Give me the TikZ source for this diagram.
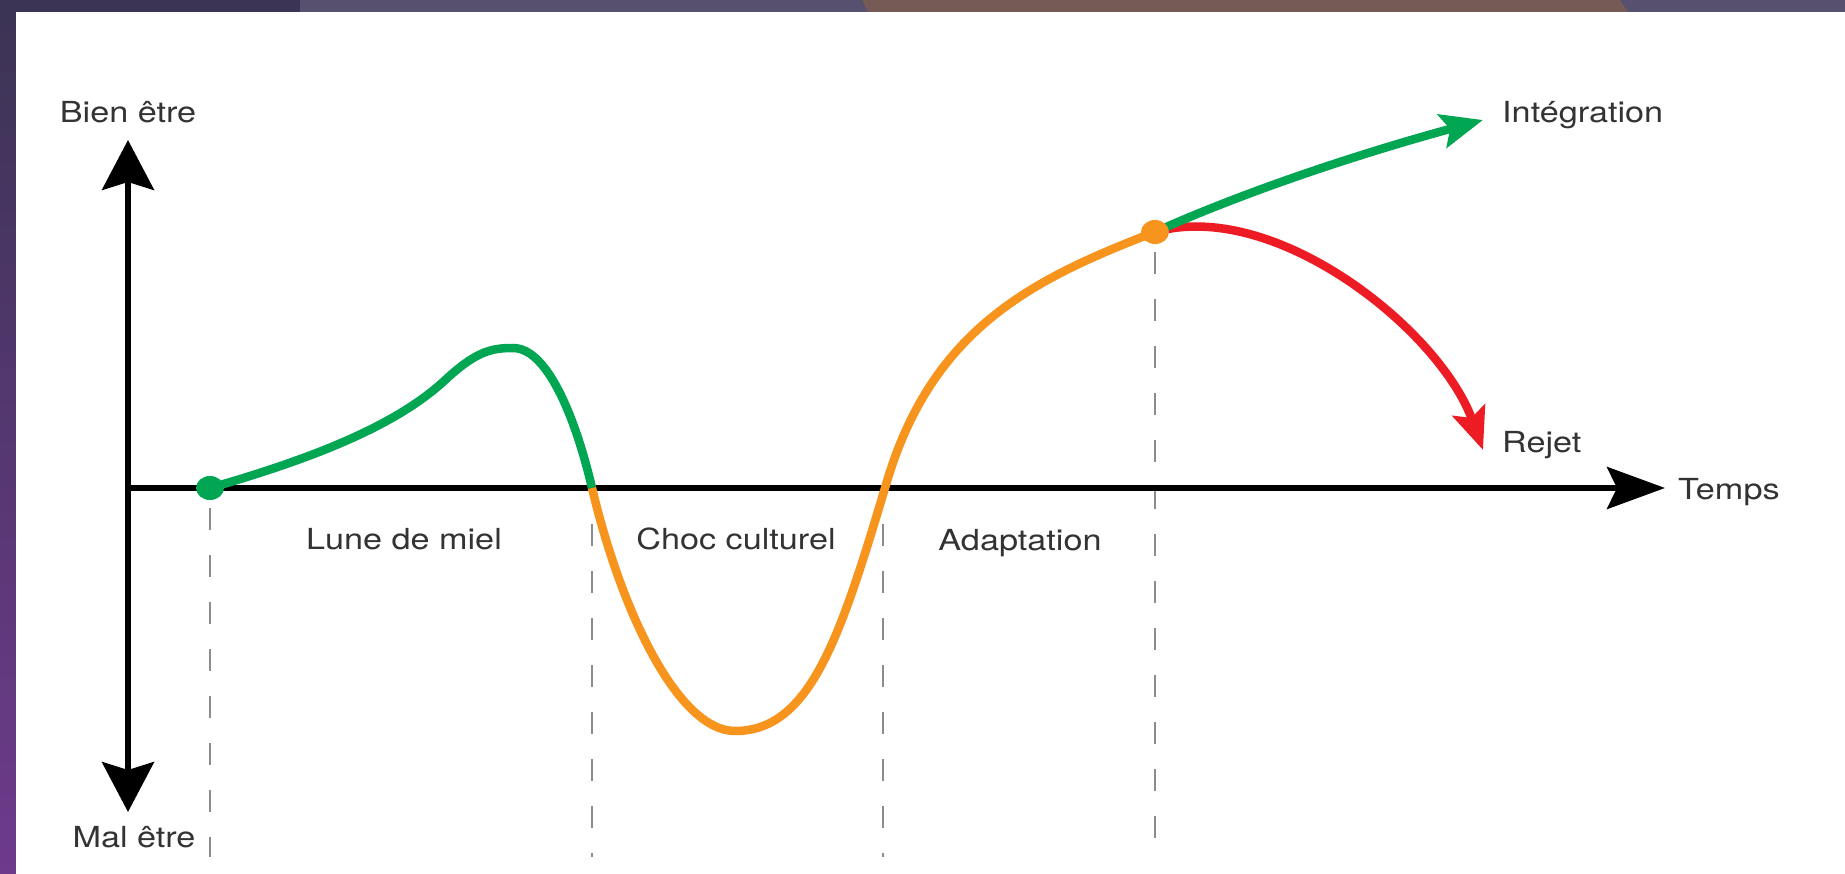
\documentclass[tikz,border=0pt]{standalone}
\usepackage{fontspec}
\setmainfont{TeX Gyre Heros}[FakeStretch=1.18]
\usetikzlibrary{arrows.meta}

\definecolor{greenline}{HTML}{00A651}
\definecolor{orangeline}{HTML}{F7941D}
\definecolor{redline}{HTML}{ED1C24}
\definecolor{guidegray}{HTML}{8C8C8C}
\definecolor{textgray}{HTML}{333333}
\definecolor{bgdark}{HTML}{3B3454}
\definecolor{bgmauve}{HTML}{57506F}
\definecolor{bgbrown}{HTML}{765A55}
\definecolor{bgpurple}{HTML}{6E3A8C}

\begin{document}
\begin{tikzpicture}[x=1pt, y=-1pt,
    lbl/.style={font=\fontsize{29pt}{34pt}\selectfont, text=textgray, inner sep=0pt},
    axis/.style={line width=5.5pt, black},
    curve/.style={line width=8.5pt},
    guide/.style={guidegray, line width=2pt, dash pattern=on 22pt off 25pt},
    axistip/.style={-{Stealth[length=58pt, width=42pt, inset=10pt]}},
    curvetip/.style={-{Stealth[length=42pt, width=34pt, inset=8pt]}}]
        \useasboundingbox (0,0) rectangle (1845,874);

        % Background
        \fill[bgdark] (0,0) rectangle (1845,874);
        \shade[top color=bgdark, bottom color=bgpurple] (0,0) rectangle (16,874);
        \fill[bgmauve] (300,0) rectangle (1845,12);
        \fill[bgbrown] (862,0) -- (1620,0) -- (1628,12) -- (868,12) -- cycle;
        \fill[white] (16,12) rectangle (1845,874);

        % Coordinates
        \coordinate (origin) at (128,488);
        \coordinate (ytop) at (128,140);
        \coordinate (ybot) at (128,812);
        \coordinate (xend) at (1665,488);
        \coordinate (start) at (210,488);
        \coordinate (chute) at (592,488);
        \coordinate (creux) at (735,731);
        \coordinate (remontee) at (885,488);
        \coordinate (sommet) at (1155,232);
        \coordinate (integend) at (1483,120);
        \coordinate (rejetend) at (1483,450);

        % Dashed guides
        \foreach \x/\y in {210/508, 592/524, 883/524, 1155/252}
            \draw[guide] (\x,\y) -- (\x,857);

        % Axes
        \draw[axis, {Stealth[length=50pt, width=52pt, inset=8pt]}-{Stealth[length=50pt, width=52pt, inset=8pt]}] (ybot) -- (ytop);
        \draw[axis, axistip] (origin) -- (xend);

        % Curve
        \draw[curve, greenline] (start) .. controls (300,462) and (390,430) .. (443,382)
            .. controls (475,352) and (490,348) .. (513,348)
            .. controls (550,348) and (578,428) .. (chute);
        \draw[curve, orangeline] (chute) .. controls (623,618) and (680,731) .. (creux)
            .. controls (810,731) and (840,638) .. (remontee)
            .. controls (930,330) and (1030,280) .. (sommet);
        \draw[curve, redline, curvetip] (sommet) .. controls (1275,198) and (1440,330) .. (rejetend);
        \draw[curve, greenline, curvetip] (sommet) .. controls (1260,185) and (1380,148) .. (integend);

        % Dots
        \fill[greenline] (start) ellipse [x radius=14pt, y radius=12pt];
        \fill[orangeline] (sommet) ellipse [x radius=14pt, y radius=12pt];

        % Labels
        \node[lbl, anchor=base] (bien) at (128,123) {Bien être};
        \node[lbl, anchor=base] (mal) at (134,847) {Mal être};
        \node[lbl, anchor=base] (lune) at (404,549) {Lune de miel};
        \node[lbl, anchor=base] (choc) at (736,549) {Choc culturel};
        \node[lbl, anchor=base] (adapt) at (1020,550) {Adaptation};
        \node[lbl, anchor=base west] (temps) at (1678,499) {Temps};
        \node[lbl, anchor=base west] (integ) at (1502,123) {Intégration};
        \node[lbl, anchor=base west] (rejet) at (1502,453) {Rejet};
    \end{tikzpicture}
\end{document}
